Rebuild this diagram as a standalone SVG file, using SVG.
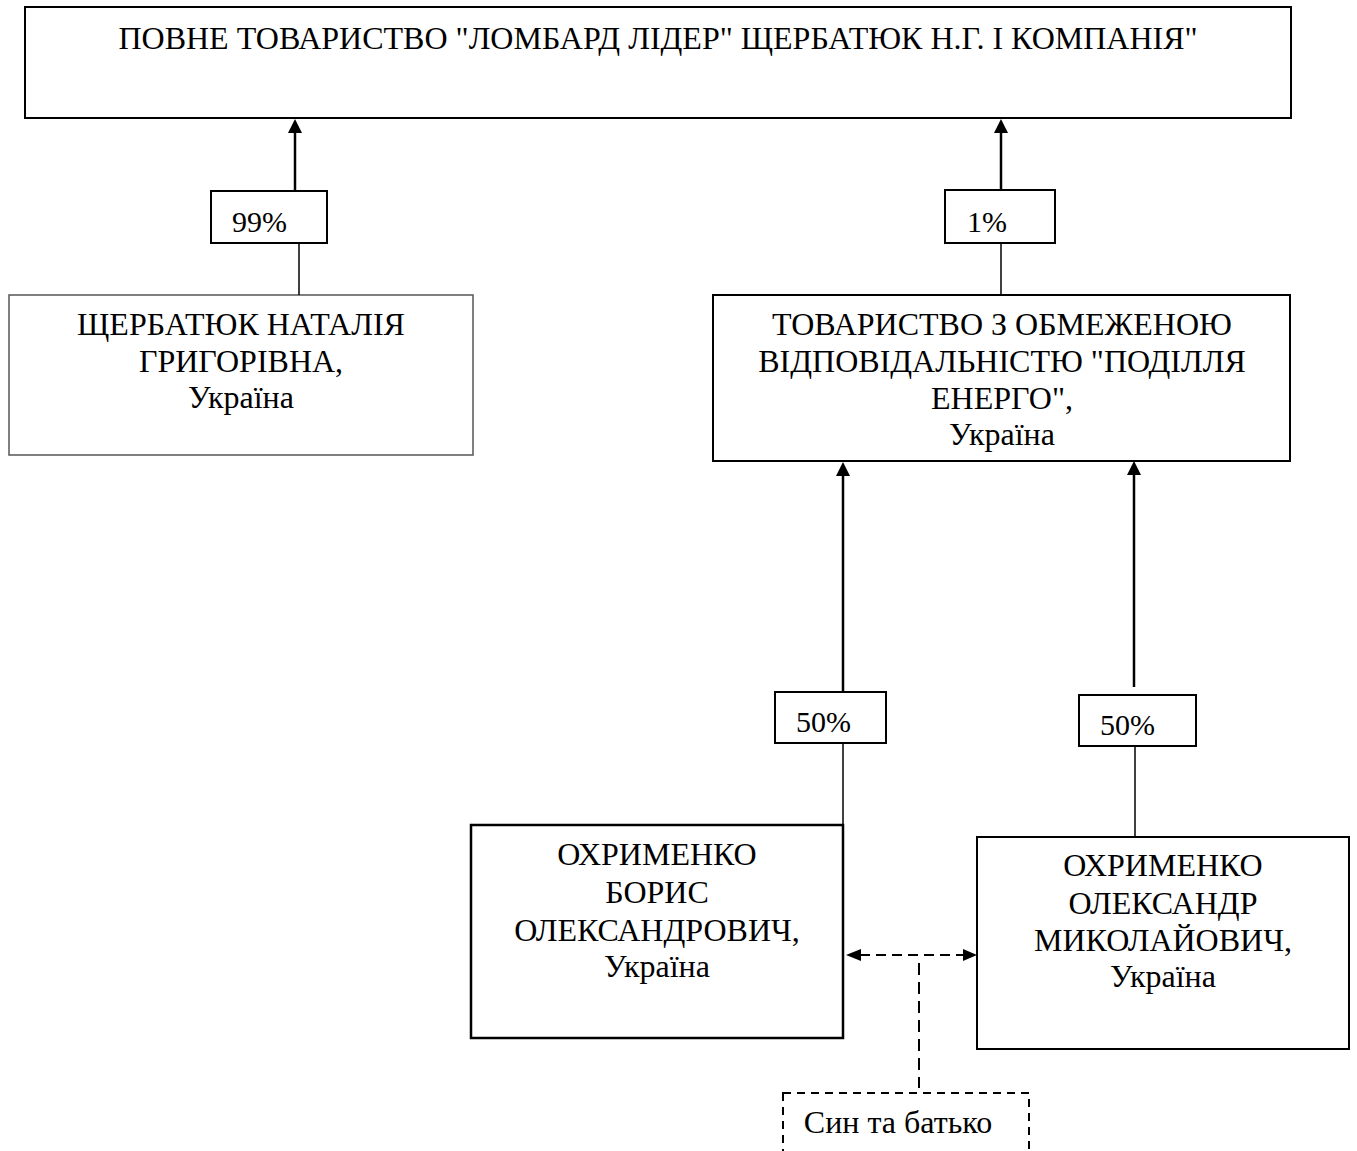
<svg xmlns="http://www.w3.org/2000/svg" width="1357" height="1151" viewBox="0 0 1357 1151">
<style>
  text { font-family: "Liberation Serif", "Times New Roman", serif; fill: #000; }
  .name { font-size: 32px; text-anchor: middle; }
  .pct { font-size: 30px; }
  .box { fill: #fff; stroke: #000; stroke-width: 2; }
  .thin { fill: #fff; stroke: #555; stroke-width: 1.5; }
  .arrow { stroke: #000; stroke-width: 2.5; fill: none; marker-end: url(#ah); }
  .link { stroke: #000; stroke-width: 1.5; fill: none; }
  .dash { stroke: #000; stroke-width: 2; fill: none; stroke-dasharray: 10 6; }
</style>
<defs>
  <marker id="ah" markerUnits="userSpaceOnUse" markerWidth="14" markerHeight="14" viewBox="0 0 14 14" refX="10" refY="7" orient="auto">
    <path d="M0,0 L14,7 L0,14 z" fill="#000"/>
  </marker>
</defs>
<rect width="1357" height="1151" fill="#fff"/>

<g id="top">
  <rect class="box" x="25" y="7" width="1266" height="111"/>
  <text class="name" x="658" y="49">ПОВНЕ ТОВАРИСТВО "ЛОМБАРД ЛІДЕР" ЩЕРБАТЮК Н.Г. І КОМПАНІЯ"</text>
</g>

<g id="shcherbatiuk">
  <rect class="thin" x="9" y="295" width="464" height="160"/>
  <text class="name" x="241" y="335">ЩЕРБАТЮК НАТАЛІЯ</text>
  <text class="name" x="241" y="372">ГРИГОРІВНА,</text>
  <text class="name" x="241" y="408">Україна</text>
</g>

<g id="podillia">
  <rect class="box" x="713" y="295" width="577" height="166"/>
  <text class="name" x="1002" y="335">ТОВАРИСТВО З ОБМЕЖЕНОЮ</text>
  <text class="name" x="1002" y="372">ВІДПОВІДАЛЬНІСТЮ "ПОДІЛЛЯ</text>
  <text class="name" x="1002" y="409">ЕНЕРГО",</text>
  <text class="name" x="1002" y="445">Україна</text>
</g>

<g id="borys">
  <rect class="box" x="471" y="825" width="372" height="213" style="stroke-width:2.5"/>
  <text class="name" x="657" y="865">ОХРИМЕНКО</text>
  <text class="name" x="657" y="903">БОРИС</text>
  <text class="name" x="657" y="941">ОЛЕКСАНДРОВИЧ,</text>
  <text class="name" x="657" y="977">Україна</text>
</g>

<g id="oleksandr">
  <rect class="box" x="977" y="837" width="372" height="212"/>
  <text class="name" x="1163" y="876">ОХРИМЕНКО</text>
  <text class="name" x="1163" y="914">ОЛЕКСАНДР</text>
  <text class="name" x="1163" y="951">МИКОЛАЙОВИЧ,</text>
  <text class="name" x="1163" y="987">Україна</text>
</g>

<g id="relation">
  <rect class="dash" x="783" y="1093" width="246" height="80" style="stroke-dasharray:8 6"/>
  <text class="name" x="898" y="1133">Син та батько</text>
</g>

<g id="connectors">
  <line class="arrow" x1="295" y1="191" x2="295" y2="123"/>
  <line class="link" x1="299" y1="243" x2="299" y2="295"/>
  <g id="pct99">
    <rect class="box" x="211" y="191" width="116" height="52"/>
    <text class="pct" x="232" y="232">99%</text>
  </g>

  <line class="arrow" x1="1001" y1="190" x2="1001" y2="123"/>
  <line class="link" x1="1001" y1="243" x2="1001" y2="295"/>
  <g id="pct1">
    <rect class="box" x="945" y="190" width="110" height="53"/>
    <text class="pct" x="967" y="232">1%</text>
  </g>

  <line class="arrow" x1="843" y1="691" x2="843" y2="466"/>
  <line class="link" x1="843" y1="743" x2="843" y2="825"/>
  <g id="pct50a">
    <rect class="box" x="775" y="692" width="111" height="51"/>
    <text class="pct" x="796" y="732">50%</text>
  </g>

  <line class="arrow" x1="1134" y1="687" x2="1134" y2="465"/>
  <line class="link" x1="1135" y1="746" x2="1135" y2="837"/>
  <g id="pct50b">
    <rect class="box" x="1079" y="695" width="117" height="51"/>
    <text class="pct" x="1100" y="735">50%</text>
  </g>

  <line class="dash" x1="860" y1="955" x2="964" y2="955"/>
  <polygon points="846,955 861,949 861,961" fill="#000"/>
  <polygon points="977,955 963,949 963,961" fill="#000"/>
  <line class="dash" x1="919" y1="963" x2="919" y2="1088" style="stroke-dasharray:12 7"/>
</g>
</svg>
